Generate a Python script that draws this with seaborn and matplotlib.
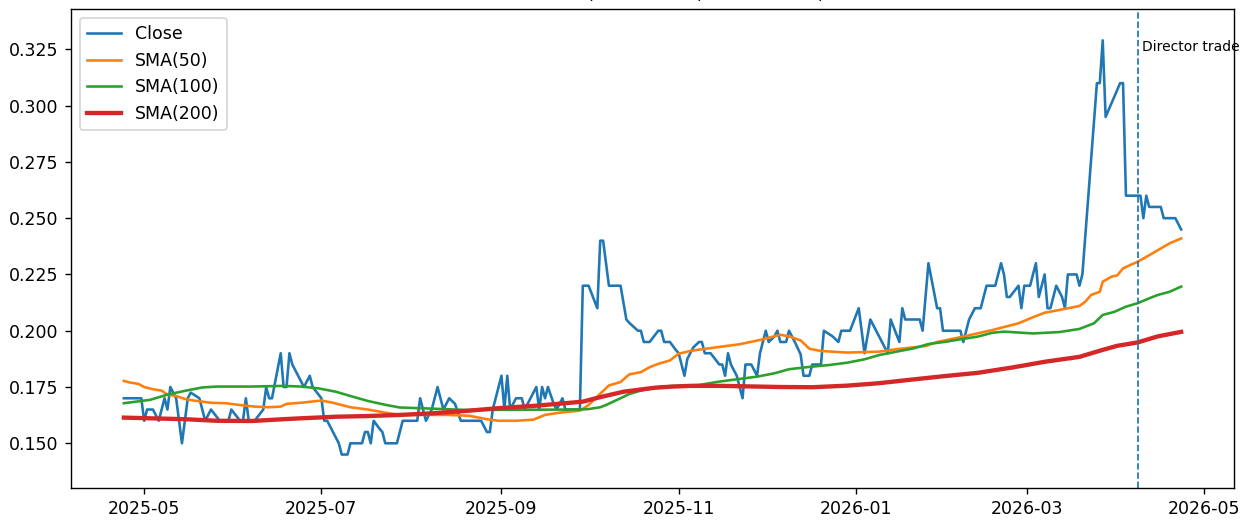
import pandas as pd
import matplotlib
matplotlib.use('Agg')
import matplotlib.pyplot as plt
import matplotlib.dates as mdates
from matplotlib.ticker import MultipleLocator
import seaborn as sns

# first day in the window, all x values are day offsets from it
start_date = '2025-04-24'
director_day = 349

close_day = [0, 6, 7, 8, 10, 12, 14, 15, 16, 17,
             18, 20, 22, 23, 26, 28, 30, 33, 36, 37,
             40, 41, 42, 43, 45, 48, 49, 50, 51, 54,
             55, 56, 57, 58, 60, 62, 64, 65, 68, 69,
             70, 72, 73, 74, 75, 77, 78, 82, 83, 84,
             85, 86, 88, 89, 90, 94, 96, 101, 102, 103,
             104, 106, 108, 110, 112, 114, 116, 123, 125, 126,
             127, 130, 131, 132, 133, 135, 137, 138, 140, 142,
             143, 144, 145, 146, 148, 149, 151, 152, 157, 158,
             160, 163, 164, 165, 167, 171, 172, 173, 174, 177,
             178, 179, 181, 184, 185, 186, 188, 190, 191, 193,
             194, 196, 198, 199, 200, 202, 205, 206, 207, 208,
             209, 211, 213, 214, 216, 218, 219, 221, 222, 224,
             225, 226, 228, 229, 231, 233, 234, 236, 237, 240,
             241, 244, 246, 247, 250, 253, 255, 257, 260, 263,
             264, 267, 268, 269, 274, 275, 277, 280, 281, 282,
             288, 289, 291, 293, 295, 296, 297, 300, 302, 303,
             304, 305, 308, 309, 310, 312, 314, 315, 317, 318,
             319, 321, 323, 324, 325, 328, 329, 330, 335, 336,
             337, 338, 343, 344, 345, 349, 350, 351, 352, 353,
             357, 358, 362, 364]
close_val = [.170, .170, .160, .165, .165, .160, .170, .165, .175, .1725,
             .170, .150, .170, .1725, .170, .160, .165, .160, .160, .165,
             .160, .160, .170, .160, .160, .165, .175, .170, .170, .190,
             .175, .175, .190, .185, .180, .175, .180, .175, .170, .160,
             .160, .155, .1525, .150, .145, .145, .150, .150, .155, .155,
             .150, .160, .1565, .155, .150, .150, .160, .160, .170, .165,
             .160, .165, .175, .165, .170, .1675, .160, .160, .155, .155,
             .165, .180, .165, .180, .165, .170, .170, .165, .170, .175,
             .165, .175, .170, .175, .1675, .165, .170, .165, .165, .220,
             .220, .210, .240, .240, .220, .220, .2125, .205, .2035, .200,
             .200, .195, .195, .200, .200, .195, .195, .1915, .190, .180,
             .1875, .1925, .195, .195, .190, .190, .185, .185, .180, .190,
             .185, .180, .170, .185, .185, .180, .190, .200, .195, .1975,
             .200, .195, .195, .200, .195, .1895, .180, .180, .185, .185,
             .200, .1975, .195, .200, .200, .210, .190, .205, .1975, .190,
             .205, .195, .210, .205, .205, .200, .230, .210, .210, .200,
             .200, .195, .205, .210, .210, .215, .220, .220, .230, .225,
             .215, .215, .220, .210, .220, .220, .230, .215, .225, .210,
             .210, .220, .215, .210, .225, .225, .220, .225, .310, .310,
             .329, .295, .310, .310, .260, .260, .260, .250, .260, .255,
             .255, .250, .250, .245]

sma50_day = [0, 2, 5, 7, 10, 13, 15, 18, 21, 24,
             30, 35, 40, 45, 50, 54, 56, 61, 68, 72,
             78, 84, 90, 95, 112, 119, 125, 129, 135, 141,
             145, 150, 157, 160, 164, 167, 171, 174, 178, 181,
             184, 188, 191, 195, 198, 205, 212, 219, 226, 229,
             233, 236, 240, 249, 260, 266, 276, 280, 289, 299,
             308, 313, 317, 322, 329, 331, 333, 336, 337, 340,
             342, 344, 347, 349, 352, 354, 356, 360, 364]
sma50_val = [.1777, .177, .1764, .175, .174, .1734, .1716, .171, .1697, .169,
             .168, .1678, .167, .1663, .166, .1663, .1675, .168, .169, .168,
             .166, .165, .1636, .1626, .1626, .1622, .1607, .160, .160, .1605,
             .1626, .1636, .1645, .167, .172, .1757, .1772, .1806, .1816, .1838,
             .1853, .1868, .1898, .191, .1916, .1928, .194, .1959, .1982, .1975,
             .1957, .192, .191, .1903, .1907, .1918, .1932, .195, .1974, .2003,
             .2033, .206, .208, .2092, .211, .2129, .2159, .2173, .2218, .224,
             .2246, .2277, .2295, .2306, .2328, .2343, .2358, .2388, .241]

sma100_day = [0, 3, 9, 15, 21, 27, 32, 44, 55, 61,
              67, 73, 78, 84, 90, 95, 106, 118, 157, 160,
              164, 166, 171, 174, 178, 185, 198, 205, 212, 218,
              224, 229, 235, 243, 249, 255, 260, 266, 272, 277,
              283, 288, 294, 299, 303, 313, 322, 329, 334, 337,
              341, 345, 349, 353, 356, 360, 364]
sma100_val = [.1678, .1683, .1693, .1716, .1733, .1748, .1752, .1752, .1755, .1752,
              .1744, .1729, .171, .1688, .1671, .1659, .1654, .1648, .165, .1652,
              .166, .167, .170, .1719, .1734, .1752, .1759, .1774, .1786, .1796,
              .1811, .1829, .1838, .1848, .1858, .1873, .1892, .1907, .1922, .1941,
              .1951, .1962, .1974, .1991, .1996, .1988, .1994, .2008, .2033, .207,
              .2084, .2107, .2122, .2144, .2159, .2173, .2196]

sma200_day = [0, 9, 21, 32, 44, 55, 61, 73, 84, 95,
              106, 118, 129, 141, 152, 158, 164, 172, 178, 183,
              189, 195, 206, 226, 237, 249, 260, 272, 283, 294,
              306, 317, 329, 337, 342, 349, 356, 364]
sma200_val = [.1614, .1611, .1607, .160, .1599, .1607, .1611, .1618, .1621, .1626,
              .1633, .1644, .1656, .1666, .1678, .1685, .1705, .1729, .1739, .1747,
              .1752, .1755, .1755, .175, .1749, .1756, .1767, .1784, .1799, .1813,
              .1837, .1862, .1884, .1915, .1933, .1948, .1975, .1995]


def to_dates(days):
    return pd.Timestamp(start_date) + pd.to_timedelta(days, unit='D')


fig, ax = plt.subplots(figsize=(10, 4.16), dpi=125)
fig.subplots_adjust(left=71 / 1250, right=1234 / 1250, top=1 - 9.3 / 520, bottom=1 - 488.3 / 520)

sns.lineplot(x=to_dates(close_day), y=close_val, ax=ax, color='#1f77b4', lw=1.5, label='Close')
sns.lineplot(x=to_dates(sma50_day), y=sma50_val, ax=ax, color='#ff7f0e', lw=1.5, label='SMA(50)')
sns.lineplot(x=to_dates(sma100_day), y=sma100_val, ax=ax, color='#2ca02c', lw=1.5, label='SMA(100)')
sns.lineplot(x=to_dates(sma200_day), y=sma200_val, ax=ax, color='#d62728', lw=2.5, label='SMA(200)')

# director trade marker
trade_date = pd.Timestamp(start_date) + pd.Timedelta(days=director_day)
ax.axvline(trade_date, ls='--', color='#1f77b4', lw=1)
ax.text(trade_date + pd.Timedelta(days=1.5), 0.3262, 'Director trade', fontsize=8, va='center')

ax.set_ylim(0.1300, 0.3428)
ax.yaxis.set_major_locator(MultipleLocator(0.025))
ax.xaxis.set_major_locator(mdates.MonthLocator(bymonth=[1, 3, 5, 7, 9, 11]))
ax.xaxis.set_major_formatter(mdates.DateFormatter('%Y-%m'))
ax.set_xlabel('')
ax.set_ylabel('')
ax.set_title('ABC.AX – Close Chart, 50D SMA, 100D SMA, 200D SMA')
ax.legend(loc='upper left')

fig.savefig('out.png', dpi=125)
